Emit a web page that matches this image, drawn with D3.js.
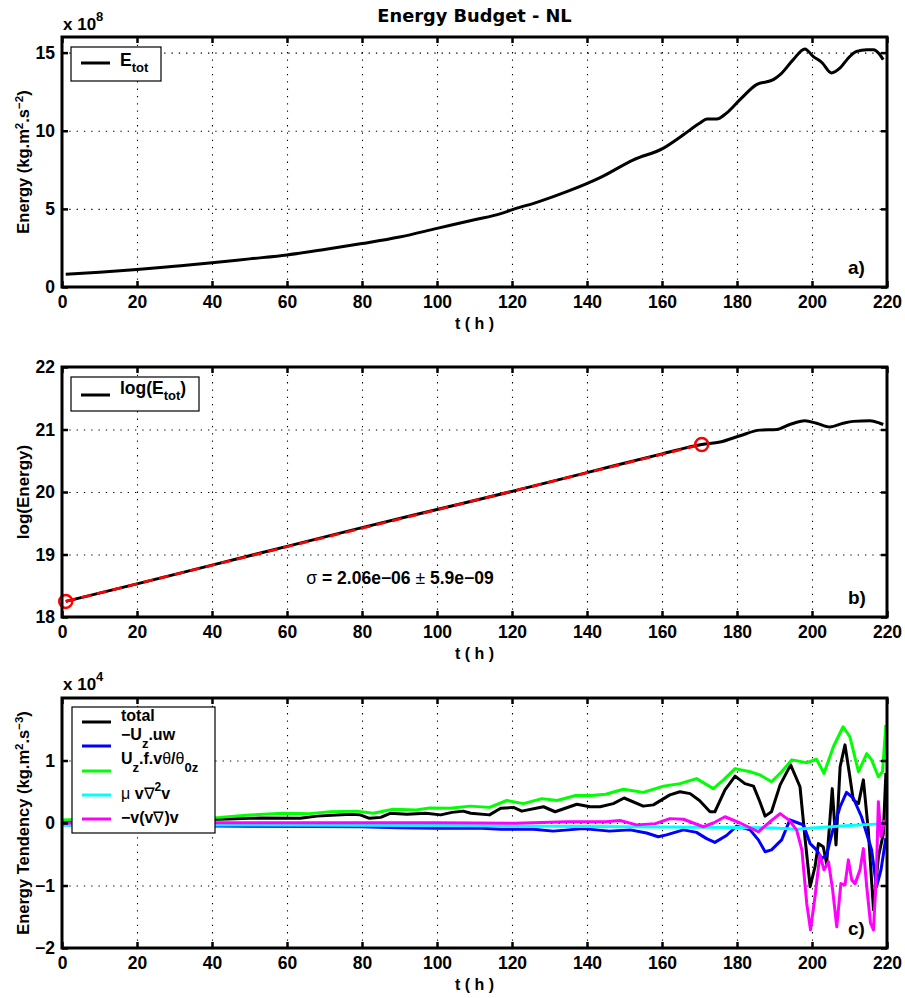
<!DOCTYPE html>
<html>
<head>
<meta charset="utf-8">
<script src="https://cdn.jsdelivr.net/npm/d3@7"></script>
<style>
  body { margin: 0; background: #fff; }
  text { font-family: "Liberation Sans", Arial, Helvetica, sans-serif; font-weight: bold; fill: #000; }
  .grid line { stroke: #000; stroke-width: 1.1; stroke-dasharray: 1.3 6; }
  .grid path { display: none; }
  .ticks path { display: none; }
  .ticks line { stroke: #000; stroke-width: 2.5; }
</style>
</head>
<body>
<svg id="chart" width="905" height="998"></svg>
<script>
// ---- time axis (hours) ----
const xTicks = [0, 20, 40, 60, 80, 100, 120, 140, 160, 180, 200, 220];

// ---- a) total energy, units of 1e8 kg.m2.s-2 ----
const energyT = [1, 10, 20, 30, 40, 50, 60, 70, 80, 90, 100, 110, 117, 120.5, 127, 134.6, 143.5, 152.4,
  160.4, 165.7, 170.1, 172, 174.6, 177.2, 180.8, 185.2, 189.7, 191.5, 195, 198.1, 200.3, 202.6, 205.2,
  207.5, 209.7, 211.9, 214.6, 216.4, 218, 219];
const energyV = [0.82, 0.95, 1.12, 1.33, 1.55, 1.8, 2.05, 2.4, 2.78, 3.2, 3.75, 4.3, 4.7, 4.98, 5.45, 6.1,
  7.0, 8.14, 8.89, 9.74, 10.49, 10.75, 10.75, 11.13, 11.99, 12.95, 13.27, 13.59, 14.55, 15.24, 14.76,
  14.38, 13.7, 14.02, 14.66, 15.08, 15.19, 15.19, 14.9, 14.55];
const energyTicks = [0, 5, 10, 15];

// ---- b) natural log of total energy, with the exponential-growth fit ----
const logT = [1, 20, 40, 60, 80, 100, 120, 140, 160, 170.6, 175.5, 180.8, 186.1, 190.6, 194.1, 198.1,
  201.2, 204.8, 208.3, 211, 215.5, 218.1, 219];
const logV = [18.25, 18.53, 18.83, 19.13, 19.43, 19.72, 20.01, 20.31, 20.61, 20.76, 20.8, 20.9, 20.99,
  21.0, 21.08, 21.14, 21.1, 21.04, 21.1, 21.13, 21.14, 21.1, 21.08];
const fitT = [1, 170.6];
const fitV = [18.25, 20.76];
const logTicks = [18, 19, 20, 21, 22];
const growthLabel = ["σ", " = 2.06e−06 ", "±", " 5.9e−09"];

// ---- c) energy tendency terms, units of 1e4 kg.m2.s-3 ----
const totalT = [0, 10, 20, 30, 42, 50, 53, 63.5, 68, 77, 79.5, 82, 85, 87.5, 92, 97, 101, 104, 107, 109,
  114, 117, 120.4, 122.6, 128.4, 131.5, 137.3, 140.8, 143.5, 147, 149.9, 155, 157.7, 162.1, 164.8, 167.5,
  170, 172.8, 174.1, 176.8, 179.5, 182.1, 184.4, 186.1, 187.5, 189.2, 191.5, 194.3, 196.8, 198.1, 199.5,
  200.8, 201.7, 203, 203.9, 205.4, 206.4, 207.5, 208.8, 210.1, 211, 212.4, 213.7, 215, 216.4, 217.7, 219, 219.7];
const totalV = [0.04, 0.05, 0.06, 0.06, 0.06, 0.075, 0.08, 0.075, 0.11, 0.14, 0.13, 0.075, 0.09, 0.155,
  0.14, 0.155, 0.13, 0.17, 0.19, 0.155, 0.13, 0.235, 0.25, 0.19, 0.26, 0.18, 0.30, 0.26, 0.26, 0.31, 0.40,
  0.27, 0.29, 0.45, 0.5, 0.47, 0.36, 0.18, 0.18, 0.53, 0.75, 0.63, 0.59, 0.34, 0.11, 0.18, 0.61, 0.93, 0.58,
  -0.22, -1.02, -0.70, -0.33, -0.38, -0.65, 0.55, -0.35, 0.9, 1.25, 0.74, 0.37, 0.31, 0.69, -0.11, -1.39,
  -0.54, -0.18, 0.8];

const shearT = [0, 20, 42, 50, 80, 90, 100, 112, 117, 125.7, 131, 139, 146, 151.5, 155.9, 159, 161.2,
  165.7, 169.2, 171.9, 174.1, 177.2, 179.9, 183.5, 185.7, 187.5, 189.2, 191.9, 194.1, 196.3, 197.7, 199.5,
  201.2, 202.6, 203.9, 205.7, 207.5, 209.2, 211, 213.2, 215.9, 217.2, 218.4, 219.7];
const shearV = [-0.03, -0.04, -0.05, -0.05, -0.06, -0.075, -0.085, -0.085, -0.1, -0.1, -0.13, -0.09, -0.13,
  -0.11, -0.16, -0.22, -0.19, -0.11, -0.15, -0.25, -0.31, -0.2, -0.05, -0.11, -0.27, -0.46, -0.43, -0.27,
  0.05, 0.0, -0.03, -0.33, -0.43, -0.57, -0.51, -0.08, 0.26, 0.49, 0.40, 0.1, -0.43, -1.02, -0.75, -0.24];

const buoyT = [0, 10, 20, 30, 42, 50, 59, 66, 71.5, 78.6, 83, 88.3, 94.5, 98, 103.5, 108.8, 114, 118.6, 123,
  128, 132, 137, 141, 145, 149.7, 155, 160.4, 164.8, 169.2, 173.7, 176.4, 179.5, 183.5, 186.1, 189.2, 191.9,
  194.6, 198.6, 201.2, 203.2, 205.7, 208.3, 210.1, 212.4, 214.6, 215.9, 217.7, 218.8, 219.7];
const buoyV = [0.05, 0.06, 0.07, 0.08, 0.09, 0.128, 0.155, 0.15, 0.18, 0.19, 0.155, 0.22, 0.21, 0.24, 0.235,
  0.27, 0.25, 0.36, 0.31, 0.39, 0.36, 0.44, 0.44, 0.46, 0.54, 0.49, 0.59, 0.63, 0.71, 0.55, 0.69, 0.87, 0.82,
  0.77, 0.66, 0.82, 1.01, 0.965, 1.02, 0.795, 1.22, 1.54, 1.38, 0.82, 1.11, 1.01, 0.74, 0.82, 1.57];

const diffT = [0, 50, 100, 150, 180, 190, 196, 200, 210, 219.7];
const diffV = [-0.03, -0.03, -0.04, -0.06, -0.07, -0.08, -0.1, -0.08, -0.04, -0.01];

const advT = [0, 42, 100, 121, 134.6, 145, 148.8, 153.2, 158.2, 162.1, 165.7, 171, 173.7, 176.8, 180.8,
  185.7, 188.8, 191.5, 193.8, 195.9, 197.3, 198.6, 199.6, 200.8, 202.1, 203.2, 204.4, 205.5, 206.6, 207.7,
  208.8, 209.7, 210.6, 211.5, 212.8, 213.7, 214.6, 215.6, 216.4, 217.2, 217.7, 218.4, 219.4];
const advV = [0.0, 0.005, 0.005, -0.005, 0.02, 0.02, 0.04, -0.03, -0.01, 0.07, 0.06, -0.06, 0.0, 0.1, 0.0,
  -0.14, 0.02, 0.15, 0.05, -0.11, -0.43, -1.29, -1.71, -1.18, -0.51, -0.75, -0.62, -1.07, -1.66, -0.97,
  -0.99, -0.59, -0.91, -0.97, -0.75, -0.41, -1.02, -1.6, -1.71, -0.75, 0.34, -0.22, 0.05];
const tendTicks = [-2, -1, 0, 1];

// ---- drawing ----
const svg = d3.select("#chart");
const left = 62, right = 887;
const x = d3.scaleLinear().domain([0, 220]).range([left, right]);
const pairs = (t, v) => d3.zip(t, v);
const intFmt = d3.format("d");
let panelCount = 0;

function makePanel(top, bottom, yDomain, yTicks) {
  const y = d3.scaleLinear().domain(yDomain).range([bottom, top]);
  const g = svg.append("g");
  const h = bottom - top, w = right - left;
  g.append("g").attr("class", "grid").attr("transform", `translate(0,${bottom})`)
    .call(d3.axisBottom(x).tickValues(xTicks.filter(v => v > 0 && v < 220)).tickSize(-h).tickFormat(""));
  g.append("g").attr("class", "grid").attr("transform", `translate(${left},0)`)
    .call(d3.axisLeft(y).tickValues(yTicks.filter(v => v > yDomain[0] && v < yDomain[1])).tickSize(-w).tickFormat(""));
  const data = g.append("g");
  const axes = g.append("g");
  axes.append("g").attr("class", "ticks").attr("transform", `translate(0,${bottom})`)
    .call(d3.axisBottom(x).tickValues(xTicks).tickSize(-6).tickPadding(9).tickFormat(intFmt));
  axes.append("g").attr("class", "ticks").attr("transform", `translate(0,${top})`)
    .call(d3.axisTop(x).tickValues(xTicks).tickSize(-6).tickFormat(""));
  axes.append("g").attr("class", "ticks").attr("transform", `translate(${left},0)`)
    .call(d3.axisLeft(y).tickValues(yTicks).tickSize(-6).tickPadding(7).tickFormat(intFmt));
  axes.append("g").attr("class", "ticks").attr("transform", `translate(${right},0)`)
    .call(d3.axisRight(y).tickValues(yTicks).tickSize(-6).tickFormat(""));
  axes.selectAll(".ticks text").style("font-size", "17.5px");
  axes.selectAll(".ticks").attr("font-family", null).attr("font-size", null);
  axes.append("rect").attr("x", left).attr("y", top).attr("width", w).attr("height", h)
    .attr("fill", "none").attr("stroke", "#000").attr("stroke-width", 3);
  axes.append("text").attr("x", (left + right) / 2).attr("y", bottom + 42)
    .attr("text-anchor", "middle").style("font-size", "16px").text("t ( h )");
  axes.append("text").attr("x", 848).attr("y", bottom - 13)
    .style("font-size", "19px").text(["a)", "b)", "c)"][panelCount++]);
  return { g, data, y, top, bottom };
}

function addText(parent, parts, attrs) {
  // parts: {s, dy, size, w} pieces laid out as tspans
  const t = parent.append("text");
  Object.entries(attrs).forEach(([k, v]) => t.attr(k, v));
  parts.forEach(p => {
    const s = t.append("tspan").text(p.s);
    if (p.dy) s.attr("dy", p.dy);
    if (p.size) s.style("font-size", p.size + "px");
    if (p.w) s.style("font-weight", p.w);
  });
  return t;
}

// title
svg.append("text").attr("x", (left + right) / 2).attr("y", 22).attr("text-anchor", "middle")
  .style("font-size", "17.8px").style("font-family", "'DejaVu Sans', sans-serif")
  .text("Energy Budget - NL");

// ---------- panel a ----------
const pa = makePanel(37, 287, [0, 16], energyTicks);
pa.data.append("path").datum(pairs(energyT, energyV))
  .attr("d", d3.line().x(d => x(d[0])).y(d => pa.y(d[1])).curve(d3.curveMonotoneX))
  .attr("fill", "none").attr("stroke", "#000").attr("stroke-width", 3);
addText(svg, [{ s: "x 10" }, { s: "8", dy: -9, size: 13 }], { x: 63, y: 30, style: "font-size:17px" });
addText(svg, [{ s: "Energy (kg.m" }, { s: "2", dy: -6, size: 11.5 }, { s: ".s", dy: 6 }, { s: "−2", dy: -6, size: 11.5 }, { s: ")", dy: 6 }],
  { transform: "translate(29,162) rotate(-90)", "text-anchor": "middle", style: "font-size:16.5px" });
{
  const lg = svg.append("g");
  lg.append("rect").attr("x", 71).attr("y", 47).attr("width", 90).attr("height", 34)
    .attr("fill", "#fff").attr("stroke", "#000").attr("stroke-width", 1.2);
  lg.append("line").attr("x1", 81).attr("x2", 110).attr("y1", 63).attr("y2", 63).attr("stroke", "#000").attr("stroke-width", 3);
  addText(lg, [{ s: "E" }, { s: "tot", dy: 6, size: 13 }], { x: 120, y: 66, style: "font-size:17.5px" });
}

// ---------- panel b ----------
const pb = makePanel(367, 617, [18, 22], logTicks);
pb.data.append("path").datum(pairs(logT, logV))
  .attr("d", d3.line().x(d => x(d[0])).y(d => pb.y(d[1])).curve(d3.curveMonotoneX))
  .attr("fill", "none").attr("stroke", "#000").attr("stroke-width", 3);
pb.data.append("path").datum(pairs(fitT, fitV)).attr("d", d3.line().x(d => x(d[0])).y(d => pb.y(d[1])))
  .attr("fill", "none").attr("stroke", "#ff0000").attr("stroke-width", 2.6).attr("stroke-dasharray", "10 6");
pb.data.selectAll("circle").data(pairs(fitT, fitV)).join("circle")
  .attr("cx", d => x(d[0])).attr("cy", d => pb.y(d[1])).attr("r", 6.5)
  .attr("fill", "none").attr("stroke", "#ff0000").attr("stroke-width", 2.5);
addText(svg, [{ s: growthLabel[0], w: "normal" }, { s: growthLabel[1] }, { s: growthLabel[2], w: "normal" }, { s: growthLabel[3] }],
  { x: 400, y: 584, "text-anchor": "middle", style: "font-size:17.5px" });
svg.append("text").attr("transform", "translate(29,492) rotate(-90)").attr("text-anchor", "middle")
  .style("font-size", "17px").text("log(Energy)");
{
  const lg = svg.append("g");
  lg.append("rect").attr("x", 71).attr("y", 377).attr("width", 128).attr("height", 34)
    .attr("fill", "#fff").attr("stroke", "#000").attr("stroke-width", 1.2);
  lg.append("line").attr("x1", 81).attr("x2", 110).attr("y1", 395).attr("y2", 395).attr("stroke", "#000").attr("stroke-width", 3);
  addText(lg, [{ s: "log(E" }, { s: "tot", dy: 6, size: 13 }, { s: ")", dy: -6 }], { x: 120, y: 394, style: "font-size:17.5px" });
}

// ---------- panel c ----------
const pc = makePanel(698, 948, [-2, 2], tendTicks);
const lineC = d3.line().x(d => x(d[0])).y(d => pc.y(d[1]));
const tendSeries = [
  { t: totalT, v: totalV, color: "#000000" },
  { t: shearT, v: shearV, color: "#0000ff" },
  { t: buoyT, v: buoyV, color: "#00ff00" },
  { t: diffT, v: diffV, color: "#00ffff" },
  { t: advT, v: advV, color: "#ff00ff" }
];
tendSeries.forEach(s => {
  pc.data.append("path").datum(pairs(s.t, s.v)).attr("d", lineC)
    .attr("fill", "none").attr("stroke", s.color).attr("stroke-width", 3).attr("stroke-linejoin", "round");
});
addText(svg, [{ s: "x 10" }, { s: "4", dy: -9, size: 13 }], { x: 63, y: 690, style: "font-size:17px" });
addText(svg, [{ s: "Energy Tendency (kg.m" }, { s: "2", dy: -6, size: 11.5 }, { s: ".s", dy: 6 }, { s: "−3", dy: -6, size: 11.5 }, { s: ")", dy: 6 }],
  { transform: "translate(29,823) rotate(-90)", "text-anchor": "middle", style: "font-size:16.5px" });
{
  const lg = svg.append("g");
  lg.append("rect").attr("x", 72).attr("y", 707).attr("width", 143).attr("height", 126)
    .attr("fill", "#fff").attr("stroke", "#000").attr("stroke-width", 1.2);
  const rows = [
    { y: 722, off: -1, parts: [{ s: "total" }] },
    { y: 746, off: -6, parts: [{ s: "−U" }, { s: "z", dy: 8, size: 13 }, { s: ".uw", dy: -8 }] },
    { y: 771, off: -7, parts: [{ s: "U" }, { s: "z", dy: 8, size: 13 }, { s: ".f.v", dy: -8 }, { s: "θ", w: "normal" }, { s: "/" }, { s: "θ", w: "normal" }, { s: "0z", dy: 8, size: 13 }] },
    { y: 795, off: 4, parts: [{ s: "μ", w: "normal" }, { s: " v" }, { s: "∇", w: "normal" }, { s: "2", dy: -8, size: 12 }, { s: "v", dy: 8 }] },
    { y: 819, off: 4, parts: [{ s: "−v(v" }, { s: "∇", w: "normal" }, { s: ")v" }] }
  ];
  rows.forEach((r, i) => {
    lg.append("line").attr("x1", 82).attr("x2", 111).attr("y1", r.y).attr("y2", r.y)
      .attr("stroke", tendSeries[i].color).attr("stroke-width", 3);
    addText(lg, r.parts, { x: 121, y: r.y + r.off, style: "font-size:16px" });
  });
}
</script>
</body>
</html>
